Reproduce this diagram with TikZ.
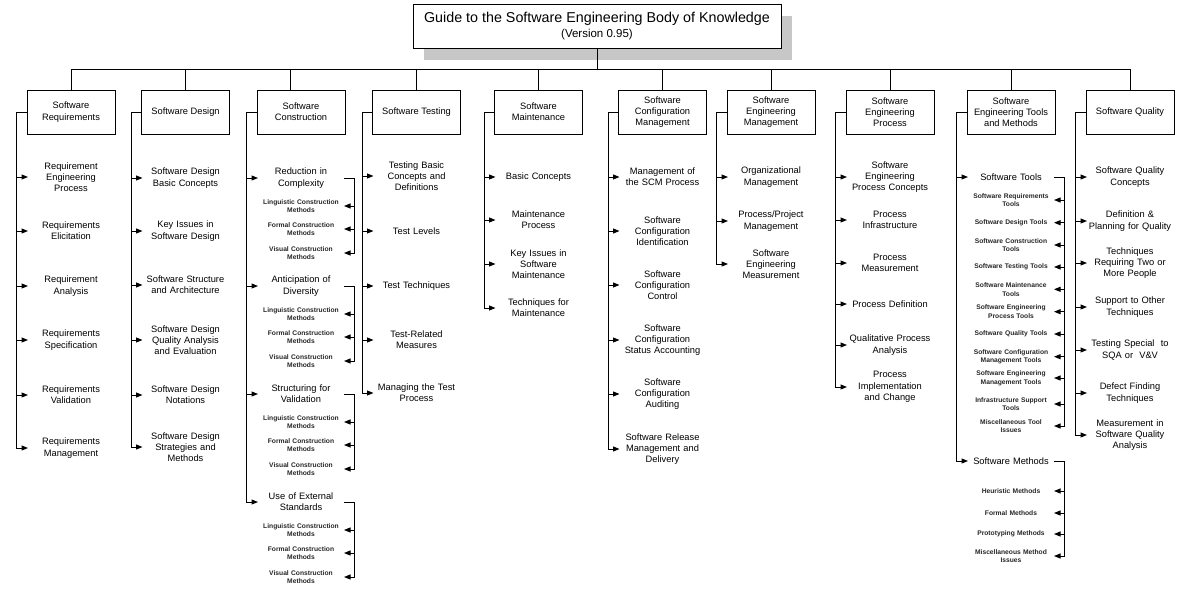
\documentclass[tikz,border=0pt]{standalone}
\usepackage{fontspec}
\setmainfont{Liberation Sans}
\usetikzlibrary{arrows.meta, shadows}

\tikzset{
  topicbox/.style={draw, line width=1pt, fill=white, minimum width=88pt,
    minimum height=44pt, align=center, inner sep=1pt, outer sep=0pt,
    font=\fontsize{9.3}{11.3}\selectfont},
  entry/.style={text width=86pt, align=center, inner sep=0pt, outer sep=0pt,
    font=\fontsize{9.3}{11.3}\selectfont},
  subentry/.style={text width=86pt, align=center, inner sep=0pt, outer sep=0pt,
    text=black!85, font=\fontsize{6.7}{8.6}\selectfont\bfseries},
  wire/.style={line width=1pt},
  feed/.style={line width=1pt, -{Triangle[length=6.5pt,width=5pt]}},
}

\begin{document}
\begin{tikzpicture}[x=1pt, y=-1pt]
  \useasboundingbox (0,0) rectangle (1181,590);

  % title
  \node[draw, line width=1pt, fill=white, minimum width=368pt,
        minimum height=44pt, align=center, inner sep=0pt, outer sep=0pt,
        drop shadow={shadow xshift=10.5pt, shadow yshift=-11.5pt,
                     fill=black!22, opacity=1}]
    (guide) at (597,26)
    {{\fontsize{14.3}{15}\selectfont Guide to the Software Engineering Body of Knowledge}\\[3.5pt]
     {\fontsize{11.5}{12}\selectfont (Version 0.95)}};

  % knowledge areas
  \node[topicbox] (req) at (71,112)   {Software\\Requirements};
  \node[topicbox] (des) at (185.5,112) {Software Design};
  \node[topicbox] (con) at (301,112)  {Software\\Construction};
  \node[topicbox] (tst) at (416.5,112) {Software Testing};
  \node[topicbox] (mnt) at (538.5,112) {Software\\Maintenance};
  \node[topicbox] (scm) at (662.5,112) {Software\\Configuration\\Management};
  \node[topicbox] (sem) at (771,112)  {Software\\Engineering\\Management};
  \node[topicbox] (sep) at (890,112)  {Software\\Engineering\\Process};
  \node[topicbox] (stm) at (1011,112) {Software\\Engineering Tools\\and Methods};
  \node[topicbox] (sqa) at (1130,112) {Software Quality};

  % bus
  \coordinate (bus) at (0,69);
  \coordinate (condrop) at ([xshift=-11pt]con.north);
  \draw[wire] (guide.south) -- (guide.south |- bus);
  \draw[wire] (req.north |- bus) -- (sqa.north |- bus);
  \foreach \t in {req,des,tst,mnt,scm,sem,sep,stm,sqa}
    \draw[wire] (\t.north |- bus) -- (\t.north);
  \draw[wire] (condrop |- bus) -- (condrop);

  % Software Requirements
  \foreach \y/\t [count=\i] in {177/{Requirement\\Engineering\\Process},
      231/{Requirements\\Elicitation}, 286/{Requirement\\Analysis},
      340/{Requirements\\Specification}, 395/{Requirements\\Validation},
      448/{Requirements\\Management}}
    \node[entry] (req\i) at (71,\y) {\t};
  \foreach \i in {1,...,5}
    \draw[feed] ([xshift=-11.5pt]req\i.west) -- (req\i.west);
  \draw[feed] (req.west) -- ++(-10.5,0) |- (req6.west);

  % Software Design
  \foreach \y/\t [count=\i] in {178/{Software Design\\Basic Concepts},
      231/{Key Issues in\\Software Design}, 285/{Software Structure\\and Architecture},
      340/{Software Design\\Quality Analysis\\and Evaluation},
      395/{Software Design\\Notations},
      447/{Software Design\\Strategies and\\Methods}}
    \node[entry] (des\i) at (185.5,\y) {\t};
  \foreach \i in {1,...,5}
    \draw[feed] ([xshift=-11.5pt]des\i.west) -- (des\i.west);
  \draw[feed] (des.west) -- ++(-10.5,0) |- (des6.west);

  % Software Construction
  \foreach \y/\t [count=\i] in {178/{Reduction in\\Complexity},
      286/{Anticipation of\\Diversity}, 394/{Structuring for\\Validation},
      502/{Use of External\\Standards}} {
    \node[entry] (con\i) at (301,\y) {\t};
    \node[subentry] (conl\i) at (301,\y+28) {Linguistic Construction\\Methods};
    \node[subentry] (conf\i) at (301,\y+51) {Formal Construction\\Methods};
    \node[subentry] (conv\i) at (301,\y+75) {Visual Construction\\Methods};
    \draw[feed] (con\i.east) -- ++(10,0) |- (conv\i.east);
    \draw[feed] ([xshift=10pt]conl\i.east) -- (conl\i.east);
    \draw[feed] ([xshift=10pt]conf\i.east) -- (conf\i.east);
  }
  \foreach \i in {1,2,3}
    \draw[feed] ([xshift=-11.5pt]con\i.west) -- (con\i.west);
  \draw[feed] (con.west) -- ++(-10.5,0) |- (con4.west);

  % Software Testing
  \foreach \y/\t [count=\i] in {176/{Testing Basic\\Concepts and\\Definitions},
      231/{Test Levels}, 286/{Test Techniques},
      340/{Test-Related\\Measures}, 393/{Managing the Test\\Process}}
    \node[entry] (tst\i) at (416.5,\y) {\t};
  \foreach \i in {1,...,4}
    \draw[feed] ([xshift=-11.5pt]tst\i.west) -- (tst\i.west);
  \draw[feed] (tst.west) -- ++(-10.5,0) |- (tst5.west);

  % Software Maintenance
  \foreach \y/\t [count=\i] in {177/{Basic Concepts},
      220/{Maintenance\\Process}, 264/{Key Issues in\\Software\\Maintenance},
      308/{Techniques for\\Maintenance}}
    \node[entry] (mnt\i) at (538.5,\y) {\t};
  \foreach \i in {1,2,3}
    \draw[feed] ([xshift=-11.5pt]mnt\i.west) -- (mnt\i.west);
  \draw[feed] (mnt.west) -- ++(-10.5,0) |- (mnt4.west);

  % Software Configuration Management
  \foreach \y/\t [count=\i] in {177/{Management of\\the SCM Process},
      231/{Software\\Configuration\\Identification},
      285/{Software\\Configuration\\Control},
      340/{Software\\Configuration\\Status Accounting},
      394/{Software\\Configuration\\Auditing},
      449/{Software Release\\Management and\\Delivery}}
    \node[entry] (scm\i) at (662.5,\y) {\t};
  \foreach \i in {1,...,5}
    \draw[feed] ([xshift=-11.5pt]scm\i.west) -- (scm\i.west);
  \draw[feed] (scm.west) -- ++(-10.5,0) |- (scm6.west);

  % Software Engineering Management
  \node[entry] (sem1) at (771,177) {Organizational\\Management};
  \node[entry] (sem2) at (771,221) {Process/Project\\Management};
  \node[entry] (sem3) at (771,264) {Software\\Engineering\\Measurement};
  \foreach \i in {1,2}
    \draw[feed] ([xshift=-11.5pt]sem\i.west) -- (sem\i.west);
  \draw[feed] (sem.west) -- ++(-10.5,0) |- (sem3.west);

  % Software Engineering Process
  \foreach \y/\t [count=\i] in {177/{Software\\Engineering\\Process Concepts},
      220/{Process\\Infrastructure}, 263/{Process\\Measurement},
      304/{Process Definition}, 345/{Qualitative Process\\Analysis},
      387/{Process\\Implementation\\and Change}}
    \node[entry] (sep\i) at (890,\y) {\t};
  \foreach \i in {1,...,5}
    \draw[feed] ([xshift=-11.5pt]sep\i.west) -- (sep\i.west);
  \draw[feed] (sep.west) -- ++(-10.5,0) |- (sep6.west);

  % Software Engineering Tools and Methods
  \node[entry] (stm1) at (1011,177) {Software Tools};
  \node[entry] (stm2) at (1011,461) {Software Methods};
  \draw[feed] ([xshift=-11.5pt]stm1.west) -- (stm1.west);
  \draw[feed] (stm.west) -- ++(-10.5,0) |- (stm2.west);
  \foreach \y/\t [count=\i] in {200/{Software Requirements\\Tools},
      222.7/{Software Design Tools}, 245/{Software Construction\\Tools},
      267/{Software Testing Tools}, 289.3/{Software Maintenance\\Tools},
      311.7/{Software Engineering\\Process Tools}, 334/{Software Quality Tools},
      356.7/{Software Configuration\\Management Tools},
      378/{Software Engineering\\Management Tools},
      404/{Infrastructure Support\\Tools}, 426/{Miscellaneous Tool\\Issues}}
    \node[subentry] (tool\i) at (1011,\y) {\t};
  \foreach \i in {1,...,10}
    \draw[feed] ([xshift=10pt]tool\i.east) -- (tool\i.east);
  \draw[feed] (stm1.east) -- ++(10,0) |- (tool11.east);
  \foreach \y/\t [count=\i] in {491/{Heuristic Methods}, 513/{Formal Methods},
      534/{Prototyping Methods}, 556/{Miscellaneous Method\\Issues}}
    \node[subentry] (meth\i) at (1011,\y) {\t};
  \foreach \i in {1,2,3}
    \draw[feed] ([xshift=10pt]meth\i.east) -- (meth\i.east);
  \draw[feed] (stm2.east) -- ++(10,0) |- (meth4.east);

  % Software Quality
  \foreach \y/\t [count=\i] in {177/{Software Quality\\Concepts},
      221/{Definition \&\\Planning for Quality},
      263/{Techniques\\Requiring Two or\\More People},
      307/{Support to Other\\Techniques}, 350/{Testing Special~ to\\SQA or~ V\&V},
      393/{Defect Finding\\Techniques},
      435/{Measurement in\\Software Quality\\Analysis}}
    \node[entry] (sqa\i) at (1130,\y) {\t};
  \foreach \i in {1,...,6}
    \draw[feed] ([xshift=-11.5pt]sqa\i.west) -- (sqa\i.west);
  \draw[feed] (sqa.west) -- ++(-10.5,0) |- (sqa7.west);

\end{tikzpicture}
\end{document}
